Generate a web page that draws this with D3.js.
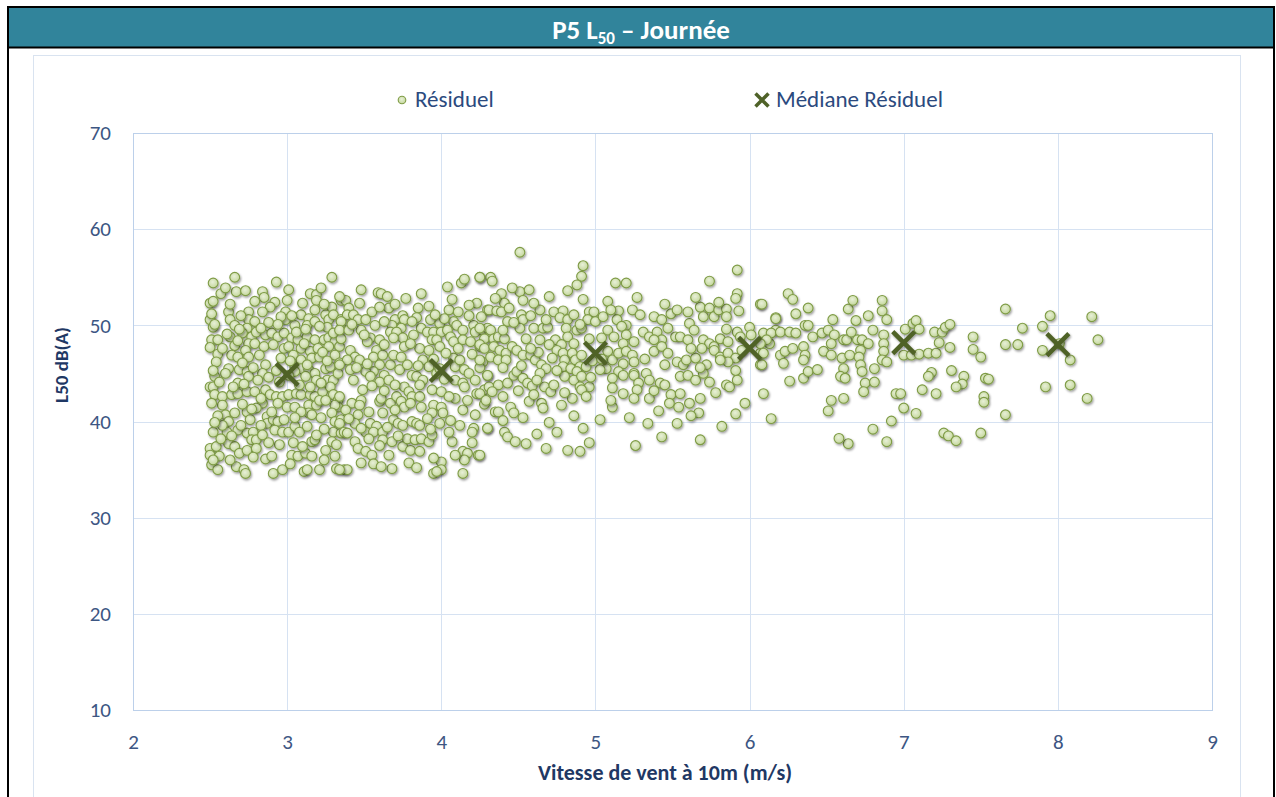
<!DOCTYPE html>
<html>
<head>
<meta charset="utf-8">
<title>P5 L50 - Journée</title>
<style>
  body { margin: 0; background: #fff; }
  svg text { font-family: Carlito, Calibri, Lato, "Open Sans", sans-serif; }
</style>
</head>
<body>
<svg id="chart" width="1276" height="797"></svg>
<script src="https://cdn.jsdelivr.net/npm/d3@7"></script>
<script>
// --- data ---
var xTicks = [2, 3, 4, 5, 6, 7, 8, 9];
var yTicks = [10, 20, 30, 40, 50, 60, 70];

// median of the residuals per wind speed
var medianX = [3, 4, 5, 6, 7, 8];
var medianY = [44.9, 45.3, 47.1, 47.6, 48.2, 48.0];

// residual points [wind speed, L50]
var residuel = [
  // 2.5 - 3.4
  [2.52,54.4],[2.66,55.0],[2.93,54.5],[3.29,55.0],[2.57,53.3],[2.67,53.5],[2.73,53.6],[2.84,53.5],
  [2.85,52.9],[2.79,52.5],[2.50,52.3],[2.52,52.5],[2.92,52.4],[2.89,51.9],[3.01,53.7],[3.00,52.6],
  [3.15,53.3],[3.19,53.2],[3.19,52.6],[3.29,51.9],[3.35,52.6],[2.62,51.4],[2.75,51.4],[2.99,51.4],
  [2.84,51.4],[3.09,51.1],[3.18,51.6],[2.50,50.6],[2.52,49.8],[2.63,50.6],[2.66,50.0],[2.75,50.6],
  [2.79,50.4],[2.74,49.7],[2.99,50.6],[3.05,50.0],[3.14,50.7],[3.25,51.1],[3.27,50.6],[3.30,51.1],
  [3.35,50.6],[3.35,49.7],[3.13,50.0],[3.18,50.4],[3.26,49.8],
  [2.51,48.5],[2.55,48.5],[2.50,47.7],[2.55,47.0],[2.63,48.8],[2.71,49.2],[2.77,48.8],[2.80,49.3],
  [2.86,49.0],[2.90,49.2],[2.94,48.8],[2.98,49.2],[2.75,48.1],[2.66,47.9],[2.73,47.4],[2.79,48.1],
  [2.85,47.8],[2.91,48.0],[2.98,47.6],[3.03,48.7],[3.07,48.5],[3.13,48.8],[3.18,48.5],[3.24,48.5],
  [3.27,48.7],[3.31,48.3],[3.01,47.8],[3.09,47.6],[3.15,47.3],[3.20,47.6],[3.27,47.8],[3.34,47.8],
  [3.06,49.3],
  [2.64,46.9],[2.62,45.5],[2.60,45.0],[2.68,46.7],[2.75,46.7],[2.82,46.9],[2.86,45.9],[2.84,45.0],
  [2.69,45.4],[2.74,45.2],[2.75,44.7],[2.96,46.6],[3.04,46.9],[3.09,46.4],[3.16,46.6],[3.21,46.7],
  [3.31,46.9],[3.05,45.7],[3.09,45.5],[3.14,45.4],[3.18,45.0],[3.05,45.2],[3.25,45.5],[3.28,45.7],
  [3.34,46.1],[3.01,44.8],[3.12,44.7],[3.19,44.3],[3.26,44.3],[3.30,44.3],[2.53,44.7],[2.50,43.6],
  [2.52,43.6],[2.68,44.0],
  [2.53,42.8],[2.58,42.6],[2.58,41.7],[2.64,42.8],[2.68,42.9],[2.74,43.1],[2.79,43.1],[2.86,43.3],
  [2.89,42.8],[2.93,42.6],[2.97,42.6],[3.01,42.8],[3.06,42.9],[3.09,42.8],[3.15,42.8],[3.18,42.6],
  [3.23,43.1],[3.28,43.6],[3.30,42.8],[3.33,42.2],[3.33,41.5],[2.84,41.9],[2.80,41.4],[2.94,41.9],
  [3.00,41.5],[3.05,41.5],[3.14,41.7],[3.19,41.7],[3.21,42.2],[3.31,41.7],[3.14,40.9],[3.16,40.7],
  [2.60,40.7],[2.66,40.9],[2.74,41.0],[2.62,40.0],[2.61,38.9],[2.58,39.6],[2.52,38.9],[2.68,39.1],
  [2.76,40.2],[2.87,40.5],[2.87,39.8],[2.91,40.2],[2.94,40.0],[2.98,40.2],[2.92,39.1],[2.97,38.9],
  [3.01,38.9],[3.05,39.5],[3.08,38.9],[3.29,40.9],[3.31,40.0],[3.35,40.2],[3.30,38.9],[3.35,38.8],
  [2.74,38.8],[2.78,38.9],[2.77,38.1],[2.80,38.1],[3.16,37.9],[3.18,38.1],[3.29,37.9],[3.32,37.6],
  [2.50,37.2],[2.54,37.4],[2.50,36.5],[2.56,36.4],[2.62,37.7],[2.66,37.4],[2.69,36.7],[2.74,37.0],
  [2.80,37.2],[2.86,36.1],[2.90,36.4],[3.03,36.5],[3.07,36.4],[3.12,36.7],[3.16,36.4],[2.51,35.5],
  [2.55,35.0],[2.67,35.3],[2.72,35.0],[2.73,34.6],[2.91,34.6],[2.97,35.0],[3.11,34.8],[3.13,35.0],
  [3.21,35.0],[3.32,35.1],[3.37,35.0],
  [2.51,51.2],[2.53,50.1],[2.54,46.2],[2.52,45.3],[2.56,44.1],[2.51,41.9],[2.55,40.6],[2.53,39.9],
  [2.57,38.2],[2.52,36.0],[2.60,53.9],[2.63,52.2],[2.70,51.0],[2.69,49.6],[2.61,49.1],[2.68,48.4],
  [2.58,47.6],[2.71,46.1],[2.78,45.6],[2.65,43.6],[2.72,43.9],[2.81,44.3],[2.88,44.6],[2.93,45.3],
  [2.95,44.1],[2.83,42.4],[2.71,41.8],[2.77,41.3],[2.90,41.0],[2.83,39.6],[2.70,39.6],[2.64,38.5],
  [2.84,38.6],[2.95,37.6],[2.88,37.8],[2.78,36.3],[2.63,36.0],[2.96,50.9],[2.88,50.3],[2.94,50.1],
  [2.83,49.7],[3.03,51.0],[3.10,52.3],[3.22,53.9],[3.24,52.2],[3.12,49.6],[3.21,49.9],[3.30,49.2],
  [3.11,48.1],[3.23,47.2],[3.35,48.6],[3.02,46.3],[3.13,45.9],[3.26,46.3],[3.22,44.0],[3.08,43.8],
  [3.15,43.6],[3.33,45.0],[3.25,42.2],[3.09,41.0],[3.22,40.4],[3.05,40.4],[3.13,39.5],[3.24,39.2],
  [3.19,38.6],[3.04,37.8],[3.10,37.4],[3.25,37.0],[3.31,36.4],[3.02,35.6],[3.24,36.0],
  // 3.3 - 4.3
  [3.48,53.7],[3.59,53.4],[3.61,53.3],[3.65,53.0],[3.66,51.8],[3.87,53.3],[4.04,54.0],[4.13,54.4],
  [4.15,54.8],[4.25,55.0],[4.32,55.0],[4.23,52.3],[4.18,52.1],[4.30,51.6],[3.38,52.6],[3.34,53.0],
  [3.47,52.3],[3.55,51.4],[3.85,51.8],[3.84,50.8],[4.05,51.6],[4.11,51.4],[3.40,51.8],[3.39,51.1],
  [3.43,51.1],[3.46,50.6],[3.51,50.6],[3.35,50.4],[3.70,50.6],[3.75,51.0],[3.76,50.6],[3.93,50.6],
  [3.99,50.2],[4.08,50.4],[4.02,50.7],[4.10,50.0],
  [3.34,49.5],[3.40,49.5],[3.48,49.5],[3.68,50.0],[3.74,49.7],[3.67,49.3],[3.71,49.3],[3.87,49.7],
  [3.91,49.3],[3.95,49.3],[4.00,49.3],[4.04,49.5],[4.06,48.8],[4.14,49.5],[4.21,50.0],[4.22,49.3],
  [4.27,49.5],[4.30,49.7],[3.54,48.7],[3.60,48.5],[3.52,48.3],[3.58,47.4],[3.75,48.7],[3.76,47.8],
  [3.86,47.6],[3.94,48.5],[3.97,48.5],[3.99,47.8],[4.08,48.3],[4.14,48.5],[4.19,48.3],[4.25,47.8],
  [4.31,48.8],
  [3.41,47.4],[3.44,46.7],[3.39,46.4],[3.47,46.4],[3.34,45.9],[3.41,45.4],[3.56,46.7],[3.62,46.9],
  [3.60,45.9],[3.67,45.9],[3.69,46.9],[3.74,46.7],[3.56,45.2],[3.51,45.2],[3.54,44.7],[3.63,44.8],
  [3.60,44.1],[3.43,44.3],[3.49,43.3],[3.73,45.4],[3.78,45.9],[3.81,44.8],[3.84,44.7],[3.76,43.6],
  [3.79,43.1],[3.88,46.4],[3.92,45.7],[3.88,44.3],[3.97,45.0],[3.99,45.5],[4.08,46.6],[4.09,45.7],
  [4.12,46.4],[4.15,45.4],[4.18,45.0],[4.09,44.3],[4.14,44.0],[4.15,43.6],[4.30,44.8],[3.94,43.3],
  [4.00,43.1],[4.09,42.4],[4.23,42.9],[4.28,43.3],[4.31,43.6],
  [3.34,42.6],[3.42,41.9],[3.48,42.2],[3.47,41.7],[3.60,42.1],[3.61,42.4],[3.67,41.9],[3.71,42.6],
  [3.74,42.1],[3.76,41.5],[3.81,42.6],[3.80,41.9],[3.86,42.6],[3.87,41.5],[3.95,41.7],[4.00,41.5],
  [4.01,40.9],[3.94,40.9],[4.14,41.2],[4.22,40.7],[3.62,40.9],[3.46,40.7],[3.44,39.8],[3.34,39.8],
  [3.54,39.8],[3.58,39.5],[3.69,40.2],[3.72,39.8],[3.75,39.6],[3.81,40.0],[3.84,39.8],[3.86,39.6],
  [3.99,39.8],[4.21,39.3],[4.20,38.9],[4.30,39.3],
  [3.37,38.9],[3.39,38.8],[3.51,38.9],[3.56,38.9],[3.62,38.9],[3.53,38.2],[3.62,38.1],[3.44,37.9],
  [3.46,37.2],[3.51,36.9],[3.55,36.5],[3.56,35.6],[3.68,37.9],[3.75,37.4],[3.80,37.0],[3.78,38.2],
  [3.83,38.1],[3.87,38.2],[3.92,37.9],[3.94,38.6],[4.07,37.9],[4.14,36.9],[4.17,36.7],[4.15,36.0],
  [4.24,36.5],[3.66,36.5],[3.68,35.1],[3.79,35.7],[4.00,35.8],[4.00,35.0],[3.95,34.6],[3.97,34.8],
  [4.14,34.6],[3.39,35.0],[3.34,35.0],
  [3.42,50.1],[3.50,49.0],[3.57,50.0],[3.63,50.4],[3.60,51.9],[3.70,52.2],[3.77,52.8],[3.81,50.4],
  [3.92,52.0],[3.96,51.1],[4.07,52.7],[4.18,51.0],[4.26,50.9],[3.63,48.0],[3.69,48.7],[3.82,49.0],
  [3.80,48.1],[3.92,47.4],[4.03,47.1],[4.11,47.6],[4.20,47.0],[4.27,46.2],[3.45,45.6],[3.52,46.0],
  [3.66,44.3],[3.70,43.8],[3.85,45.8],[3.95,46.5],[4.02,44.4],[4.22,44.3],[4.25,45.6],[3.55,43.7],
  [3.63,43.2],[3.86,43.8],[4.05,42.6],[4.17,42.2],[4.28,41.8],[3.38,41.2],[3.53,41.0],[3.70,41.2],
  [3.91,40.3],[4.06,40.1],[4.12,39.6],[3.40,40.3],[3.48,39.3],[3.65,39.4],[3.93,39.2],[4.05,38.9],
  [3.72,38.5],[3.60,37.5],[3.86,36.9],[3.95,36.2],[4.09,36.5],[3.48,35.7],[3.61,35.3],[3.84,35.2],
  [4.20,37.8],
  // 4.25 - 6.2
  [4.51,57.6],[4.92,56.2],[4.91,55.1],[4.88,54.2],[5.92,55.75],[5.74,54.6],[5.13,54.4],[5.20,54.4],
  [4.25,55.0],[4.33,54.6],[4.39,53.3],[4.51,53.5],[4.57,53.7],[4.53,52.6],[4.41,52.3],[4.92,52.7],
  [5.08,52.5],[5.92,53.3],[5.91,52.8],[6.07,52.2],
  [4.31,51.6],[4.36,51.5],[4.39,51.4],[4.43,50.4],[4.52,51.1],[4.53,50.6],[4.64,51.6],[4.73,51.4],
  [4.79,51.5],[4.77,50.8],[4.82,50.6],[4.86,51.1],[4.96,51.4],[4.99,51.4],[4.95,50.6],[5.00,50.4],
  [5.15,51.5],[5.24,51.6],[5.29,51.1],[5.14,50.6],[5.20,50.0],[5.38,50.9],[5.43,50.6],[5.49,51.2],
  [5.53,51.6],[5.61,50.2],[5.68,51.9],[5.70,50.9],[5.74,51.8],[5.77,50.9],[5.80,51.6],[5.85,51.7],
  [5.85,50.9],[5.93,51.5],[6.17,50.8],
  [4.25,49.7],[4.32,49.5],[4.28,48.6],[4.34,48.6],[4.37,48.8],[4.41,48.6],[4.51,49.7],[4.60,49.7],
  [4.66,49.7],[4.69,49.8],[4.55,48.6],[4.64,48.5],[4.74,48.5],[4.81,49.7],[4.82,48.8],[4.88,49.5],
  [4.91,49.7],[4.70,48.0],[4.78,48.0],[4.86,48.1],[5.08,49.5],[5.12,48.8],[5.17,49.9],[5.20,49.0],
  [5.18,48.1],[5.31,49.3],[5.35,48.8],[5.40,49.3],[5.43,48.5],[5.38,48.5],[5.52,48.8],[5.55,48.8],
  [5.60,48.5],[5.64,49.5],[5.70,48.5],[5.74,48.1],[5.77,47.8],[5.81,48.6],[5.86,48.3],[5.92,49.3],
  [5.94,48.8],[6.00,49.8],[6.01,49.0],[6.10,48.5],[6.17,49.5],
  [4.25,48.0],[4.28,47.6],[4.34,47.8],[4.38,47.4],[4.42,47.1],[4.46,47.8],[4.25,46.4],[4.32,46.7],
  [4.37,46.4],[4.42,46.4],[4.49,47.4],[4.53,46.9],[4.58,46.9],[4.61,46.4],[4.63,47.2],[4.65,45.9],
  [4.68,45.5],[4.75,47.4],[4.79,47.1],[4.80,46.4],[4.85,47.1],[4.87,46.4],[4.91,46.9],[4.79,45.7],
  [4.84,45.5],[4.90,45.7],[4.88,45.2],[4.94,45.7],[5.08,47.3],[5.11,46.4],[5.07,45.5],[5.15,47.1],
  [5.20,47.3],[5.24,46.9],[5.25,46.2],[5.18,46.0],[5.15,45.2],[5.18,44.8],[5.25,45.0],[5.38,47.3],
  [5.43,47.8],[5.47,47.1],[5.53,46.2],[5.57,45.9],[5.59,46.4],[5.65,46.6],[5.69,47.6],[5.77,47.4],
  [5.72,45.9],[5.81,46.7],[5.86,47.1],[5.91,46.6],[5.86,46.2],[5.81,46.4],[6.07,47.1],[6.07,45.9],
  [6.13,48.1],[6.20,46.9],
  [4.30,44.8],[4.37,43.8],[4.43,44.0],[4.47,44.8],[4.49,45.2],[4.53,44.5],[4.56,44.0],[4.59,43.7],
  [4.64,45.0],[4.67,43.6],[4.71,43.1],[4.73,43.8],[4.25,42.9],[4.33,43.1],[4.40,42.6],[4.29,42.2],
  [4.80,44.7],[4.86,44.3],[4.91,44.7],[4.90,43.6],[4.96,43.6],[4.85,42.4],[4.91,43.3],[4.94,42.6],
  [5.03,45.4],[5.11,44.5],[5.11,43.5],[5.25,44.8],[5.28,44.0],[5.33,45.0],[5.35,44.3],[5.27,43.3],
  [5.42,44.0],[5.45,43.8],[5.49,42.8],[5.55,42.9],[5.55,44.7],[5.60,44.8],[5.65,44.3],[5.70,45.0],
  [5.74,44.1],[5.85,43.8],[5.87,43.6],[5.91,45.3],[5.18,42.9],[5.25,42.4],[5.35,42.4],[5.48,41.9],
  [5.61,41.9],[5.68,42.4],[5.54,41.5],
  [4.45,41.5],[4.47,40.9],[4.57,42.1],[4.65,41.9],[4.66,41.4],[4.35,41.0],[4.37,41.0],[4.30,39.3],
  [4.41,38.9],[4.43,38.4],[4.48,37.9],[4.55,37.7],[4.68,37.2],[4.75,38.9],[4.82,37.0],[4.90,36.9],
  [4.92,39.3],[4.25,36.5],[5.03,40.2],[5.11,41.5],[5.26,37.5],[5.34,39.8],[5.41,41.1],[5.43,38.4],
  [5.53,39.8],[5.67,40.9],[5.68,38.1],[5.91,40.8],
  [4.35,52.8],[4.46,53.9],[4.60,52.3],[4.70,53.0],[4.82,53.6],[4.44,51.8],[4.58,51.0],[4.68,50.6],
  [4.90,50.1],[4.47,50.3],[4.40,49.5],[4.58,47.6],[4.72,46.6],[4.96,48.6],[4.98,46.3],[4.52,45.8],
  [4.40,45.6],[4.62,44.3],[4.75,45.3],[4.97,44.6],[4.50,43.2],[4.80,43.0],[4.60,42.8],[4.78,41.7],
  [4.53,40.4],[4.70,39.9],[4.62,38.7],[4.40,40.1],[4.86,40.6],[4.96,37.8],
  [5.05,50.9],[5.10,51.6],[5.27,52.9],[5.45,52.2],[5.60,51.4],[5.65,52.9],[5.80,52.4],[5.04,48.7],
  [5.25,48.3],[5.47,49.7],[5.62,47.6],[5.85,49.6],[5.95,47.4],[5.04,46.5],[5.32,46.5],[5.45,45.9],
  [5.68,45.6],[5.92,44.3],[5.10,42.2],[5.38,43.2],[5.78,43.0],[5.97,41.9],[5.22,40.4],[5.62,40.6],
  [5.82,39.5],
  // 6.0 - 8.3
  [6.08,52.2],[6.25,53.3],[6.28,52.7],[6.38,51.8],[6.30,51.2],[6.17,50.7],[6.54,50.6],[6.64,51.7],
  [6.67,52.6],[6.77,51.0],[6.86,52.6],[6.86,51.5],[6.89,50.6],[6.69,50.5],
  [6.09,49.2],[6.14,49.2],[6.20,49.3],[6.11,48.5],[6.07,48.1],[6.09,47.1],[6.08,45.9],
  [6.26,49.3],[6.30,49.2],[6.36,50.0],[6.38,50.0],[6.23,47.3],[6.22,46.05],[6.28,47.6],[6.35,47.8],
  [6.36,46.9],[6.35,46.4],
  [6.41,48.8],[6.47,49.2],[6.51,49.5],[6.55,49.0],[6.48,47.3],[6.53,48.1],[6.53,46.9],[6.61,48.5],
  [6.60,46.6],[6.63,48.5],[6.66,49.3],[6.65,46.9],[6.70,48.5],[6.73,48.5],[6.77,48.1],[6.72,47.4],
  [6.71,46.7],[6.80,49.5],[6.87,49.0],[6.87,48.1],[6.87,47.3],[6.86,46.4],[6.89,46.2],[6.72,45.9],
  [6.73,45.2],[6.61,45.5],[6.59,44.7],[6.62,44.5],[6.81,45.5],[6.75,44.0],[6.74,43.1],[6.81,44.1],
  [6.09,42.9],[6.26,44.2],[6.35,44.5],[6.38,45.2],[6.44,45.4],[6.53,42.2],[6.51,41.1],[6.61,42.4],
  [6.14,40.3],
  [6.95,42.9],[6.98,42.9],[7.00,41.4],[6.92,40.05],[7.08,40.85],[6.80,39.2],[6.89,37.9],[6.64,37.7],
  [6.58,38.25],
  [7.01,49.6],[7.06,50.2],[7.08,50.5],[7.10,49.6],[7.00,46.9],[7.05,46.9],[7.10,47.0],[7.16,47.1],
  [7.21,47.1],[7.20,49.3],[7.25,49.3],[7.27,49.8],[7.30,50.1],[7.23,48.2],[7.30,47.7],[7.18,45.1],
  [7.16,44.7],[7.12,43.3],[7.21,42.9],[7.31,45.3],[7.39,44.7],[7.38,43.9],[7.34,43.6],[7.45,48.8],
  [7.45,47.5],[7.50,46.7],[7.53,44.5],[7.55,44.4],[7.52,42.6],[7.52,42.0],[7.66,40.7],[7.66,48.0],
  [7.74,48.0],[7.77,49.7],[7.66,51.7],[7.90,49.9],[7.95,51.0],[7.90,47.4],[8.01,48.1],[8.08,46.4],
  [7.92,43.6],[8.08,43.8],[8.19,42.4],[8.22,50.9],[8.26,48.5],[7.26,38.8],[7.29,38.5],[7.34,38.0],
  [7.50,38.8]
];

// --- layout ---
var svg = d3.select("#chart");
var W = 1276, H = 797;
var plot = { left: 133, right: 1212, top: 133, bottom: 710 };

var x = d3.scaleLinear().domain([2, 9]).range([plot.left, plot.right]);
var y = d3.scaleLinear().domain([10, 70]).range([plot.bottom, plot.top]);

var defs = svg.append("defs");
// light green fill with a soft centre
var grad = defs.append("radialGradient").attr("id", "dotFill")
    .attr("cx", "45%").attr("cy", "40%").attr("r", "60%");
grad.append("stop").attr("offset", "0%").attr("stop-color", "#e8f0d8");
grad.append("stop").attr("offset", "100%").attr("stop-color", "#c4d79b");
// the small grey shadow under each marker
var shadow = defs.append("filter").attr("id", "shadow")
    .attr("x", "-50%").attr("y", "-50%").attr("width", "200%").attr("height", "200%");
shadow.append("feDropShadow").attr("dx", 1).attr("dy", 1.5).attr("stdDeviation", 0.9)
    .attr("flood-color", "#000").attr("flood-opacity", 0.4);

// outer frame and title band
svg.append("rect").attr("x", 8).attr("y", 7).attr("width", W - 10).attr("height", H)
    .attr("fill", "#fff").attr("stroke", "#000").attr("stroke-width", 2);
svg.append("rect").attr("x", 9).attr("y", 8).attr("width", W - 12).attr("height", 39)
    .attr("fill", "#31849b");
svg.append("line").attr("x1", 8).attr("x2", W - 2).attr("y1", 47.5).attr("y2", 47.5)
    .attr("stroke", "#000").attr("stroke-width", 2);

var title = svg.append("text").attr("x", 641).attr("y", 39)
    .attr("text-anchor", "middle").attr("fill", "#fff")
    .style("font-size", "27px").style("font-weight", "bold");
title.append("tspan").text("P5 L");
title.append("tspan").attr("dy", 5).style("font-size", "17px").text("50");
title.append("tspan").attr("dy", -5).text(" \u2013 Journée");

// chart area border
svg.append("rect").attr("x", 33.5).attr("y", 55.5).attr("width", 1207).attr("height", 760)
    .attr("fill", "none").attr("stroke", "#d9e3f0").attr("stroke-width", 1);

// gridlines
var g = svg.append("g");
g.selectAll(".hgrid").data(yTicks).enter().append("line")
    .attr("x1", plot.left).attr("x2", plot.right)
    .attr("y1", function(d){ return Math.round(y(d)) + 0.5; })
    .attr("y2", function(d){ return Math.round(y(d)) + 0.5; })
    .attr("stroke", "#d6e2f2");
g.selectAll(".vgrid").data(xTicks).enter().append("line")
    .attr("y1", plot.top).attr("y2", plot.bottom)
    .attr("x1", function(d){ return Math.round(x(d)) + 0.5; })
    .attr("x2", function(d){ return Math.round(x(d)) + 0.5; })
    .attr("stroke", "#d6e2f2");
// plot area border
g.append("rect").attr("x", plot.left + 0.5).attr("y", plot.top + 0.5)
    .attr("width", plot.right - plot.left).attr("height", plot.bottom - plot.top)
    .attr("fill", "none").attr("stroke", "#bcd0ea");

// axes (labels only)
var yAxis = g.append("g").attr("transform", "translate(" + (plot.left - 22) + ",0)")
    .call(d3.axisLeft(y).tickValues(yTicks).tickFormat(d3.format("d")).tickSize(0).tickPadding(0));
var xAxis = g.append("g").attr("transform", "translate(0," + (plot.bottom + 21) + ")")
    .call(d3.axisBottom(x).tickValues(xTicks).tickFormat(d3.format("d")).tickSize(0).tickPadding(0));
[yAxis, xAxis].forEach(function(ax){
  ax.select(".domain").remove();
  ax.selectAll("text").attr("fill", "#3d5683").style("font-size", "21px")
    .style("font-family", "Carlito, Calibri, Lato, sans-serif");
});
xAxis.selectAll("text").attr("dy", "0.85em");

// axis titles
svg.append("text").attr("transform", "translate(68,365) rotate(-90)")
    .attr("text-anchor", "middle").attr("fill", "#1f3864")
    .style("font-size", "19px").style("font-weight", "bold").text("L50 dB(A)");
svg.append("text").attr("x", 665).attr("y", 780)
    .attr("text-anchor", "middle").attr("fill", "#1f3864")
    .style("font-size", "22px").style("font-weight", "bold").text("Vitesse de vent à 10m (m/s)");

// residual points
g.append("g").selectAll("circle").data(residuel).enter().append("circle")
    .attr("cx", function(d){ return x(d[0]); })
    .attr("cy", function(d){ return y(d[1]); })
    .attr("r", 4.9)
    .attr("fill", "url(#dotFill)")
    .attr("stroke", "#7e9b45").attr("stroke-width", 1.1)
    .attr("filter", "url(#shadow)");

// median crosses
function cross(sel, s, w) {
  sel.append("path")
    .attr("d", "M" + (-s) + "," + (-s) + "L" + s + "," + s + "M" + (-s) + "," + s + "L" + s + "," + (-s))
    .attr("stroke", "#4f6228").attr("stroke-width", w).attr("fill", "none");
}
var medians = medianX.map(function(v, i){ return [v, medianY[i]]; });
var mk = g.append("g").selectAll("g").data(medians).enter().append("g")
    .attr("transform", function(d){ return "translate(" + x(d[0]) + "," + y(d[1]) + ")"; })
    .attr("filter", "url(#shadow)");
cross(mk, 11, 4.5);

// legend
var leg = svg.append("g");
leg.append("circle").attr("cx", 402).attr("cy", 100).attr("r", 3.8)
    .attr("fill", "url(#dotFill)").attr("stroke", "#7e9b45").attr("stroke-width", 1.1);
leg.append("text").attr("x", 415).attr("y", 107).attr("fill", "#2b4a7e")
    .style("font-size", "23px").text("Résiduel");
var lc = leg.append("g").attr("transform", "translate(762,100)");
cross(lc, 6.5, 3.5);
leg.append("text").attr("x", 776).attr("y", 107).attr("fill", "#2b4a7e")
    .style("font-size", "23px").text("Médiane Résiduel");
</script>
</body>
</html>
